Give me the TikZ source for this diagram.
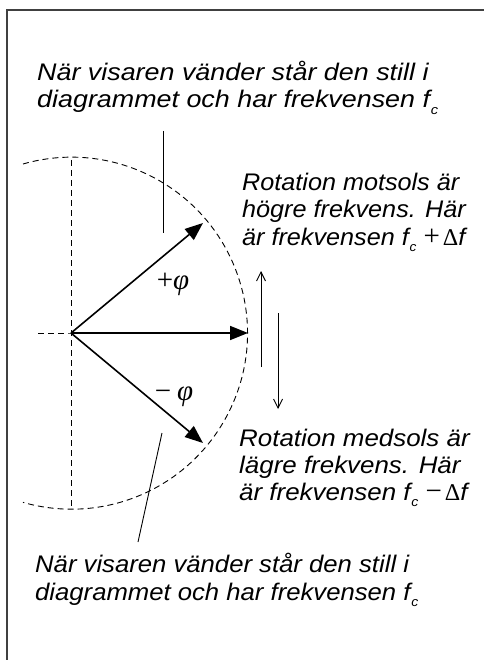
\documentclass[tikz,border=0pt]{standalone}
\usepackage{fontspec}
\setmainfont{Liberation Sans}[FakeStretch=1.05]
\newfontfamily\fA{Liberation Sans}[FakeStretch=1.12]
\newfontfamily\fB{Liberation Sans}[FakeStretch=1.07]
\newfontfamily\fC{Liberation Sans}[FakeStretch=1.05]
\newfontfamily\fD{Liberation Sans}[FakeStretch=1.08]
\newfontfamily\serifgr{Liberation Serif}
\usetikzlibrary{arrows.meta}
\newcommand{\fsub}{\textit{f}\kern0.03em\raisebox{-0.28em}{\fontsize{13}{13}\selectfont\itshape c}}
\newcommand{\symop}[1]{\kern0.3em{\serifgr\upshape{\fontsize{29}{29}\selectfont #1}\kern0.12em Δ}\textit{f}}
\begin{document}
\begin{tikzpicture}[x=1pt,y=-1pt,
  frame/.style={line width=1.6pt,black!75},
  guide/.style={line width=0.9pt,dash pattern=on 6pt off 4pt},
  phasor/.style={line width=1.6pt,-{Triangle[length=18pt,width=14pt]}},
  thinarr/.style={line width=0.9pt,-{Straight Barb[length=9pt,width=9pt]}},
  pointer/.style={line width=0.9pt},
  txt/.style={font=\fontsize{24}{27}\selectfont\itshape,inner sep=0pt,anchor=base west},
  ang/.style={font=\fontsize{29}{29}\selectfont\serifgr,inner sep=0pt}]
\useasboundingbox (0,0) rectangle (484,660);
\draw[frame] (7,660) -- (7,10) -- (484,10);
\coordinate (O) at (71,333);
\coordinate (T) at (248,333);
\coordinate (U) at (203,223);
\coordinate (D) at (203,443);
\coordinate (L) at (38,333);
\coordinate (vt) at (71,160);
\coordinate (vb) at (71,507);
\coordinate (as) at (23,164);
% dashed guides
\draw[guide] (L) -- (O) -- (213,333);
\draw[guide] (vt) -- (vb);
\draw[guide] (as) arc[start angle=106,end angle=-106,radius=176pt];
% phasors
\draw[phasor] (O) -- (T);
\draw[phasor] (O) -- (U);
\draw[phasor] (O) -- (D);
\node[ang] (pp) at (173,284) {+\textit{φ}};
\node[ang] (mp) at (174,397) {−\kern0.2em\textit{φ}};
% pointer lines
\coordinate (p1a) at (163,131);
\coordinate (p1b) at (163,233);
\draw[pointer] (p1a) -- (p1b);
\coordinate (p2a) at (162,433);
\coordinate (p2b) at (138,542);
\draw[pointer] (p2a) -- (p2b);
% rotation arrows
\coordinate (ua) at (261,367);
\coordinate (ub) at (261,271);
\coordinate (da) at (278,313);
\coordinate (db) at (278,409);
\draw[thinarr] (ua) -- (ub);
\draw[thinarr] (da) -- (db);
% texts
\node[txt] (top1) at (37,81) {\fA När visaren vänder står den still i};
\node[txt] (top2) at (37,108) {\fA diagrammet och har frekvensen \fsub};
\node[txt] (ru1) at (242,191) {\fC Rotation motsols är};
\node[txt] (ru2) at (242,218) {\fC högre frekvens. Här};
\node[txt] (ru3) at (242,245) {\fC är frekvensen \fsub\symop{+}};
\node[txt] (rd1) at (239,446) {\fD Rotation medsols är};
\node[txt] (rd2) at (239,473) {\fD lägre frekvens. Här};
\node[txt] (rd3) at (239,500) {\fD är frekvensen \fsub\symop{−}};
\node[txt] (bot1) at (35,572) {\fB När visaren vänder står den still i};
\node[txt] (bot2) at (35,600) {\fB diagrammet och har frekvensen \fsub};
\end{tikzpicture}
\end{document}
